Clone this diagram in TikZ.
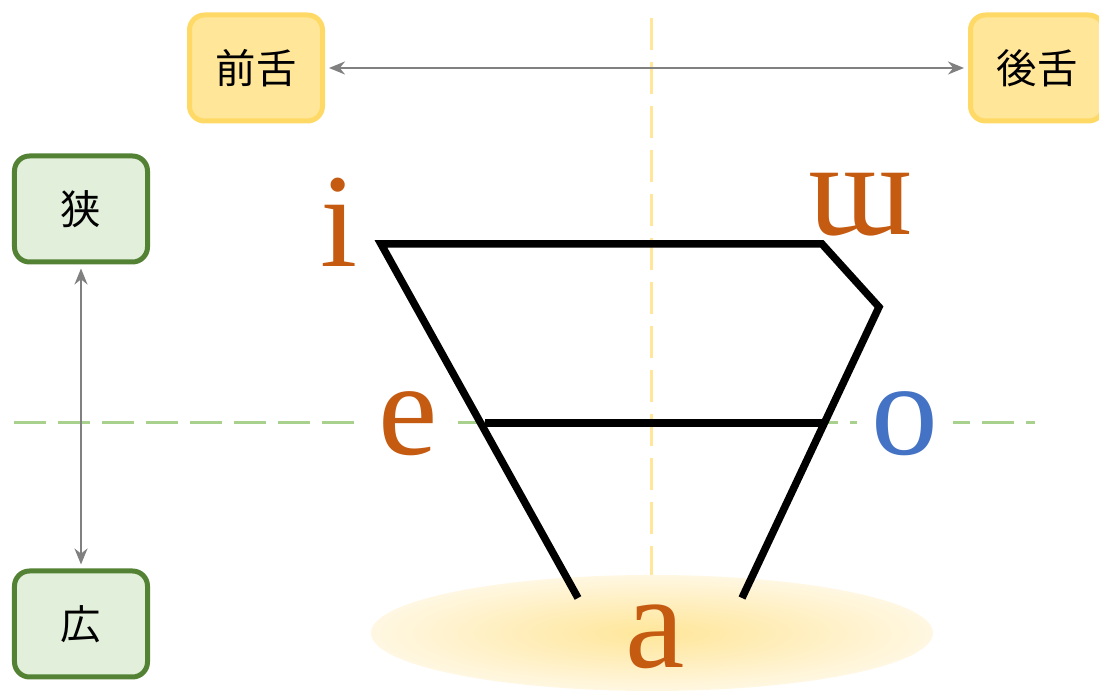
\documentclass[tikz,border=0pt]{standalone}
\usepackage{fontspec}
\setmainfont{Liberation Serif}
\newfontfamily\jpfont{Noto Sans CJK JP}
\usetikzlibrary{positioning, arrows.meta}
\definecolor{rust}{HTML}{C55A11}
\definecolor{azure}{HTML}{4472C4}
\definecolor{sage}{HTML}{A9D18E}
\definecolor{amber}{HTML}{FFE699}
\definecolor{gold}{HTML}{FFD966}
\definecolor{cream}{HTML}{FFF7E2}
\definecolor{leaf}{HTML}{E2EFDA}
\definecolor{moss}{HTML}{548235}
\definecolor{pewter}{HTML}{808080}

\begin{document}
\begin{tikzpicture}[
    tonguebox/.style={draw=gold, fill=amber, line width=0.05cm, rounded corners=0.15cm,
      minimum width=1.33cm, minimum height=1.06cm, font=\jpfont\fontsize{11.5}{13}\selectfont},
    openbox/.style={tonguebox, draw=moss, fill=leaf},
    scalearrow/.style={pewter, line width=0.025cm, {Stealth[length=0.16cm, width=0.13cm]}-{Stealth[length=0.16cm, width=0.13cm]}, shorten <=0.04cm, shorten >=0.04cm},
    guide/.style={line width=0.03cm, dash pattern=on 0.32cm off 0.12cm},
    vowel/.style={text=rust, anchor=base, inner sep=0pt, font=\fontsize{38}{40}\selectfont}
  ]
        \useasboundingbox (0,0) rectangle (10.99,6.93);
        \draw[guide, sage] (0.14,2.70) -- (10.35,2.70);
        \draw[guide, amber] (6.51,6.75) -- (6.51,1.18);
        \shade[inner color=amber, outer color=cream] (6.52,0.60) ellipse [x radius=2.81, y radius=0.58];

        \node[tonguebox] (front) at (2.56,6.25) {前舌};
        \node[tonguebox] (back) at (10.37,6.25) {後舌};
        \node[openbox] (narrow) at (0.81,4.84) {狭};
        \node[openbox] (wide) at (0.81,0.69) {広};
        \draw[scalearrow] (front) -- (back);
        \draw[scalearrow] (narrow) -- (wide);

        \node[vowel, fill=white, inner sep=0.2cm] (ve) at (4.08,2.38) {e};
        \node[vowel, fill=white, inner sep=0.15cm, text=azure] (vo) at (9.05,2.38) {o};

        \draw[line width=0.075cm] (5.78,0.95) -- (3.81,4.49) -- (8.22,4.49) -- (8.79,3.86) -- (7.42,0.95);
        \draw[line width=0.075cm] (4.85,2.70) -- (8.26,2.70);

        \node[vowel] (vi) at (3.39,4.26) {i};
        \node[vowel] (vu) at (8.60,4.58) {ɯ};
        \node[vowel] (va) at (6.55,0.25) {a};
      \end{tikzpicture}
\end{document}
